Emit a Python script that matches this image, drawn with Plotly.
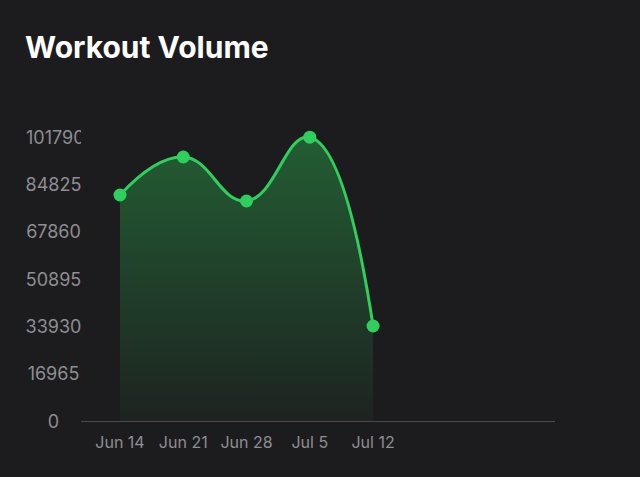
import plotly.graph_objects as go

weeks = ["Jun 14", "Jun 21", "Jun 28", "Jul 5", "Jul 12"]
volume = [81060, 94690, 78910, 101790, 34070]
y_ticks = [0, 16965, 33930, 50895, 67860, 84825, 101790]

GREEN = "#2fcf5e"
BG = "#1c1c1e"
GRAY = "#8e8e93"

fig = go.Figure()
fig.add_trace(go.Scatter(
    x=weeks, y=volume,
    mode="lines+markers",
    line=dict(color=GREEN, width=3, shape="spline", smoothing=1.3),
    marker=dict(color=GREEN, size=13),
    fill="tozeroy",
    fillgradient=dict(type="vertical",
                      colorscale=[[0, "rgba(48,209,88,0.04)"], [1, "rgba(48,209,88,0.36)"]]),
    hoverinfo="skip",
    showlegend=False,
))

L, R, T, B = 81, 85, 110, 56
W, H = 640, 477
plot_w = W - L - R
plot_h = H - T - B
px_per_tick = 47.3
ymax = plot_h / px_per_tick * y_ticks[1]

annotations = []
for v in y_ticks:
    txt = str(v)
    annotations.append(dict(
        xref="paper", yref="y", x=(24 - L) / plot_w, y=v,
        xanchor="left", yanchor="middle",
        text=txt, showarrow=False, width=55,
        align="left" if len(txt) > 5 else "center",
        font=dict(family="Inter, Roboto, sans-serif", size=18, color=GRAY),
    ))

fig.update_layout(
    width=W, height=H,
    margin=dict(l=L, r=R, t=T, b=B),
    paper_bgcolor=BG, plot_bgcolor=BG,
    title=dict(text="<b>Workout Volume</b>", xref="container", yref="container",
               x=25 / W, xanchor="left", y=1 - 47 / H, yanchor="middle",
               font=dict(family="Inter, sans-serif", size=30, color="#ffffff")),
    xaxis=dict(
        type="category", range=[-0.616, 6.875],
        showgrid=False, zeroline=False,
        showline=True, linecolor="#4a4a4d", linewidth=1,
        ticks="outside", ticklen=7, tickcolor="rgba(0,0,0,0)",
        tickfont=dict(family="Inter, Roboto, sans-serif", size=16, color=GRAY),
    ),
    yaxis=dict(
        range=[0, ymax], showgrid=False, zeroline=False,
        showticklabels=False, tickvals=y_ticks,
    ),
    annotations=annotations,
)

fig.write_html("out.html")
